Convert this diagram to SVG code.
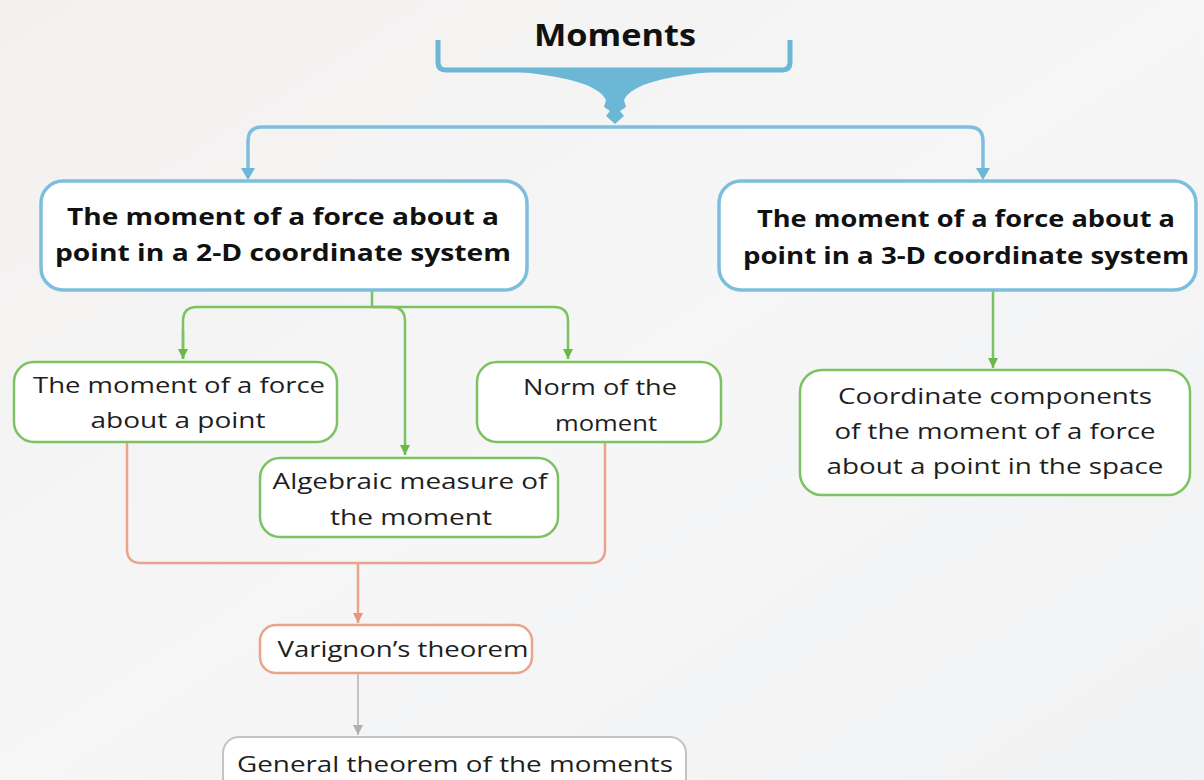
<svg xmlns="http://www.w3.org/2000/svg" width="1204" height="780" viewBox="0 0 1204 780">
<defs>
<style>
.bold{font-family:"Open Sans","Liberation Sans",sans-serif;font-weight:bold;font-size:23px;fill:#111;text-anchor:middle}
.reg{font-family:"Open Sans","Liberation Sans",sans-serif;font-size:22px;fill:#1e1e1e;text-anchor:middle}
.box{fill:#fff}
.blue{stroke:#7dbedd;stroke-width:3.5}
.green{stroke:#7cc262;stroke-width:2.5}
.orange{stroke:#eba48c;stroke-width:2.5}
.gray{stroke:#c4c4c4;stroke-width:2}
.ln{fill:none}
</style>
<marker id="ag" viewBox="0 0 12 10" refX="10" refY="5" markerWidth="12" markerHeight="12" markerUnits="userSpaceOnUse" orient="auto"><path d="M0,0 L10,5 L0,10 Z" fill="#6ab84a"/></marker>
<marker id="ao" viewBox="0 0 12 10" refX="10" refY="5" markerWidth="12" markerHeight="12" markerUnits="userSpaceOnUse" orient="auto"><path d="M0,0 L10,5 L0,10 Z" fill="#e8957a"/></marker>
<marker id="ay" viewBox="0 0 12 10" refX="10" refY="5" markerWidth="12" markerHeight="12" markerUnits="userSpaceOnUse" orient="auto"><path d="M0,0 L10,5 L0,10 Z" fill="#b0b0b0"/></marker>
<linearGradient id="bg" x1="0" y1="0" x2="1" y2="1">
<stop offset="0" stop-color="#f3f1ef"/><stop offset="0.5" stop-color="#f6f6f7"/><stop offset="1" stop-color="#f1f2f3"/>
</linearGradient>
</defs>
<rect width="1204" height="780" fill="url(#bg)"/>

<g id="title">
<text x="615" y="46" class="bold" style="font-size:30px" textLength="162" lengthAdjust="spacingAndGlyphs">Moments</text>
<path d="M438 40 V62 Q438 70 446 70 H782 Q790 70 790 62 V40" fill="none" stroke="#6cb6d6" stroke-width="5"/>
<path d="M510 71 C565 76 598 84 606 100 L604 107 L610 111 L606 116 L615 124 L624 116 L620 111 L626 107 L624 100 C632 84 665 76 720 71 Z" fill="#6cb6d6"/>
</g>

<g id="connectors">
<path class="ln blue" d="M248 172 V141 Q248 127 262 127 H969 Q983 127 983 141 V172"/>
<path d="M241 168 L255 168 L248 180 Z M976 168 L990 168 L983 180 Z" fill="#6cb6d6"/>
<path class="ln green" d="M372 291 V307"/>
<path class="ln green" d="M183 359 V321 Q183 307 197 307 H554 Q568 307 568 321 V359" marker-end="url(#ag)"/>
<path class="ln green" d="M183 330 V359" marker-end="url(#ag)"/>
<path class="ln green" d="M372 307 H391 Q405 307 405 321 V455" marker-end="url(#ag)"/>
<path class="ln green" d="M993 291 V368" marker-end="url(#ag)"/>
<path class="ln orange" d="M127 443 V549 Q127 563 141 563 H591 Q605 563 605 549 V443"/>
<path class="ln orange" d="M358 563 V623" marker-end="url(#ao)"/>
<path class="ln gray" d="M358 674 V735" marker-end="url(#ay)"/>
</g>

<g id="node-2d">
<rect x="41" y="181" width="486" height="109" rx="22" class="box blue"/>
<text x="283" y="225" class="bold" textLength="432" lengthAdjust="spacingAndGlyphs">The moment of a force about a</text>
<text x="283" y="261" class="bold" textLength="456" lengthAdjust="spacingAndGlyphs">point in a 2-D coordinate system</text>
</g>

<g id="node-3d">
<rect x="719" y="181" width="477" height="109" rx="22" class="box blue"/>
<text x="966" y="227" class="bold" textLength="418" lengthAdjust="spacingAndGlyphs">The moment of a force about a</text>
<text x="966" y="264" class="bold" textLength="446" lengthAdjust="spacingAndGlyphs">point in a 3-D coordinate system</text>
</g>

<g id="node-point">
<rect x="14" y="362" width="323" height="80" rx="20" class="box green"/>
<text x="179" y="393" class="reg" textLength="292" lengthAdjust="spacingAndGlyphs">The moment of a force</text>
<text x="178" y="428" class="reg" textLength="175" lengthAdjust="spacingAndGlyphs">about a point</text>
</g>

<g id="node-norm">
<rect x="477" y="362" width="244" height="80" rx="20" class="box green"/>
<text x="600" y="395" class="reg" textLength="154" lengthAdjust="spacingAndGlyphs">Norm of the</text>
<text x="606" y="431" class="reg" textLength="102" lengthAdjust="spacingAndGlyphs">moment</text>
</g>

<g id="node-algebraic">
<rect x="260" y="458" width="298" height="79" rx="20" class="box green"/>
<text x="410" y="489" class="reg" textLength="275" lengthAdjust="spacingAndGlyphs">Algebraic measure of</text>
<text x="411" y="525" class="reg" textLength="162" lengthAdjust="spacingAndGlyphs">the moment</text>
</g>

<g id="node-coord">
<rect x="800" y="370" width="390" height="125" rx="22" class="box green"/>
<text x="995" y="404" class="reg" textLength="314" lengthAdjust="spacingAndGlyphs">Coordinate components</text>
<text x="995" y="439" class="reg" textLength="321" lengthAdjust="spacingAndGlyphs">of the moment of a force</text>
<text x="995" y="474" class="reg" textLength="337" lengthAdjust="spacingAndGlyphs">about a point in the space</text>
</g>

<g id="node-varignon">
<rect x="260" y="625" width="272" height="48" rx="16" class="box orange"/>
<text x="403" y="657" class="reg" textLength="251" lengthAdjust="spacingAndGlyphs">Varignon’s theorem</text>
</g>

<g id="node-general">
<rect x="223" y="737" width="463" height="60" rx="16" class="box gray"/>
<text x="455" y="772" class="reg" textLength="436" lengthAdjust="spacingAndGlyphs">General theorem of the moments</text>
</g>
</svg>
